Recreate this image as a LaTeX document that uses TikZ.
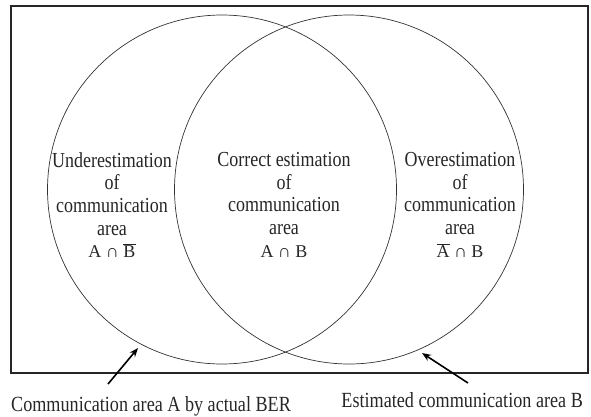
\documentclass[tikz,border=0pt]{standalone}
\usepackage{fontspec}
\setmainfont{Liberation Serif}
\newfontfamily\condfont[FakeStretch=0.84]{Liberation Serif}
\usetikzlibrary{arrows.meta}
\newcommand{\ovl}[1]{$\overline{\mbox{#1}}$}
\newcommand{\mathline}[1]{{\fontsize{18}{22.6}\selectfont\rmfamily #1}}
\begin{document}
\begin{tikzpicture}[x=1pt,y=-1pt,
  frame/.style={draw=black!85, line width=1.1pt},
  area/.style={circle, draw=black!80, line width=0.7pt, minimum size=349pt, inner sep=0pt},
  region/.style={align=center, font=\condfont\fontsize{21.4}{22.7}\selectfont, text=black!85, inner sep=0pt, anchor=north},
  caption/.style={font=\condfont\fontsize{21.6}{22}\selectfont, text=black!85, inner sep=0pt},
  pointer/.style={-{Stealth[length=9pt,width=7pt]}, line width=1.6pt, draw=black}
]
\useasboundingbox (0,0) rectangle (591,416);
\draw[frame] (11,6) rectangle (588,373);
\node[area] (A) at (222,189.5) {};
\node[area] (B) at (349,189.5) {};
\node[region] (under) at (112,152) {Underestimation\\of\\communication\\area\\\mathline{A ∩ \ovl{B}}};
\node[region] (correct) at (284,152) {Correct estimation\\of\\communication\\area\\\mathline{A ∩ B}};
\node[region] (over) at (460,152) {Overestimation\\of\\communication\\area\\\mathline{\ovl{A} ∩ B}};
\node[caption, anchor=base west] (capA) at (11,411) {Communication area A by actual BER};
\node[caption, anchor=base east] (capB) at (583,407) {Estimated communication area B};
\coordinate (tA) at (108,384);
\coordinate (hA) at (138,348);
\coordinate (tB) at (468,383);
\coordinate (hB) at (422,353);
\draw[pointer] (tA) -- (hA);
\draw[pointer] (tB) -- (hB);
\end{tikzpicture}
\end{document}
